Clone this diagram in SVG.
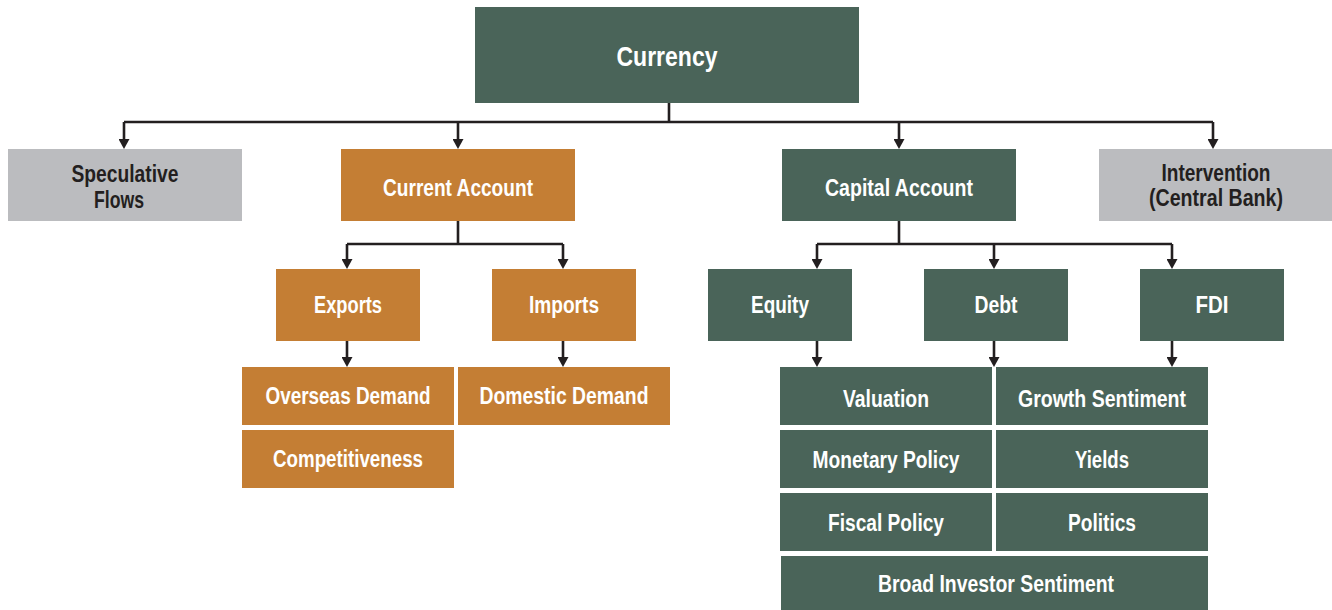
<svg xmlns="http://www.w3.org/2000/svg" width="1332" height="610" viewBox="0 0 1332 610">
  <defs>
    <style>
      .green { fill: #4a6459; }
      .orange { fill: #c47e34; }
      .gray { fill: #bbbcbf; }
      text { font-family: "Liberation Sans", Arial, sans-serif; font-weight: bold; font-size: 23px; text-anchor: middle; }
      .light { fill: #ffffff; }
      .dark { fill: #231f20; }
      .title { font-size: 28px; }
      .wire { fill: none; stroke: #231f20; stroke-width: 2.6; }
      .arrow { fill: none; stroke: #231f20; stroke-width: 2.6; marker-end: url(#head); }
    </style>
    <marker id="head" viewBox="0 0 10 11" refX="5" refY="5.5" markerWidth="10" markerHeight="11" markerUnits="userSpaceOnUse" orient="auto">
      <path d="M0,0 L10,5.5 L0,11 z" fill="#231f20"/>
    </marker>
  </defs>

  <!-- connectors -->
  <g id="connectors">
    <!-- Currency to first level -->
    <path class="wire" d="M669,103 V122 M124,122 H1213"/>
    <path class="arrow" d="M124,122 V144"/>
    <path class="arrow" d="M458,122 V144"/>
    <path class="arrow" d="M899,122 V144"/>
    <path class="arrow" d="M1213,122 V144"/>
    <!-- Current Account branch -->
    <path class="wire" d="M458,221 V244 M347,244 H563"/>
    <path class="arrow" d="M347,244 V264"/>
    <path class="arrow" d="M563,244 V264"/>
    <path class="arrow" d="M347,341 V362"/>
    <path class="arrow" d="M563,341 V362"/>
    <!-- Capital Account branch -->
    <path class="wire" d="M899,221 V244 M817,244 H1172"/>
    <path class="arrow" d="M817,244 V264"/>
    <path class="arrow" d="M994,244 V264"/>
    <path class="arrow" d="M1172,244 V264"/>
    <path class="arrow" d="M817,341 V362"/>
    <path class="arrow" d="M994,341 V362"/>
    <path class="arrow" d="M1172,341 V362"/>
  </g>

  <!-- labels use a condensed setting via textLength -->
  <g id="currency">
    <rect class="green" x="475" y="7" width="384" height="96"/>
    <text class="light title" x="667" y="66" textLength="101" lengthAdjust="spacingAndGlyphs">Currency</text>
  </g>

  <g id="speculative-flows">
    <rect class="gray" x="8" y="149" width="234" height="72"/>
    <text class="dark" x="125" y="182" textLength="107" lengthAdjust="spacingAndGlyphs">Speculative</text>
    <text class="dark" x="119" y="208" textLength="50" lengthAdjust="spacingAndGlyphs">Flows</text>
  </g>

  <g id="current-account">
    <rect class="orange" x="341" y="149" width="234" height="72"/>
    <text class="light" x="458" y="196" textLength="150" lengthAdjust="spacingAndGlyphs">Current Account</text>
  </g>

  <g id="capital-account">
    <rect class="green" x="782" y="149" width="234" height="72"/>
    <text class="light" x="899" y="196" textLength="148" lengthAdjust="spacingAndGlyphs">Capital Account</text>
  </g>

  <g id="intervention">
    <rect class="gray" x="1099" y="149" width="233" height="72"/>
    <text class="dark" x="1216" y="181" textLength="109" lengthAdjust="spacingAndGlyphs">Intervention</text>
    <text class="dark" x="1216" y="206" textLength="134" lengthAdjust="spacingAndGlyphs">(Central Bank)</text>
  </g>

  <g id="exports">
    <rect class="orange" x="276" y="269" width="144" height="72"/>
    <text class="light" x="348" y="313" textLength="68" lengthAdjust="spacingAndGlyphs">Exports</text>
  </g>

  <g id="imports">
    <rect class="orange" x="492" y="269" width="144" height="72"/>
    <text class="light" x="564" y="313" textLength="70" lengthAdjust="spacingAndGlyphs">Imports</text>
  </g>

  <g id="equity">
    <rect class="green" x="708" y="269" width="144" height="72"/>
    <text class="light" x="780" y="313" textLength="58" lengthAdjust="spacingAndGlyphs">Equity</text>
  </g>

  <g id="debt">
    <rect class="green" x="924" y="269" width="144" height="72"/>
    <text class="light" x="996" y="313" textLength="43" lengthAdjust="spacingAndGlyphs">Debt</text>
  </g>

  <g id="fdi">
    <rect class="green" x="1140" y="269" width="144" height="72"/>
    <text class="light" x="1212" y="313" textLength="33" lengthAdjust="spacingAndGlyphs">FDI</text>
  </g>

  <g id="overseas-demand">
    <rect class="orange" x="242" y="367" width="212" height="58"/>
    <text class="light" x="348" y="404" textLength="165" lengthAdjust="spacingAndGlyphs">Overseas Demand</text>
  </g>

  <g id="competitiveness">
    <rect class="orange" x="242" y="430" width="212" height="58"/>
    <text class="light" x="348" y="467" textLength="150" lengthAdjust="spacingAndGlyphs">Competitiveness</text>
  </g>

  <g id="domestic-demand">
    <rect class="orange" x="458" y="367" width="212" height="58"/>
    <text class="light" x="564" y="404" textLength="169" lengthAdjust="spacingAndGlyphs">Domestic Demand</text>
  </g>

  <g id="valuation">
    <rect class="green" x="780" y="367" width="212" height="58"/>
    <text class="light" x="886" y="407" textLength="86" lengthAdjust="spacingAndGlyphs">Valuation</text>
  </g>

  <g id="growth-sentiment">
    <rect class="green" x="996" y="367" width="212" height="58"/>
    <text class="light" x="1102" y="407" textLength="168" lengthAdjust="spacingAndGlyphs">Growth Sentiment</text>
  </g>

  <g id="monetary-policy">
    <rect class="green" x="780" y="430" width="212" height="58"/>
    <text class="light" x="886" y="468" textLength="147" lengthAdjust="spacingAndGlyphs">Monetary Policy</text>
  </g>

  <g id="yields">
    <rect class="green" x="996" y="430" width="212" height="58"/>
    <text class="light" x="1102" y="468" textLength="54" lengthAdjust="spacingAndGlyphs">Yields</text>
  </g>

  <g id="fiscal-policy">
    <rect class="green" x="780" y="493" width="212" height="58"/>
    <text class="light" x="886" y="531" textLength="116" lengthAdjust="spacingAndGlyphs">Fiscal Policy</text>
  </g>

  <g id="politics">
    <rect class="green" x="996" y="493" width="212" height="58"/>
    <text class="light" x="1102" y="531" textLength="68" lengthAdjust="spacingAndGlyphs">Politics</text>
  </g>

  <g id="broad-investor-sentiment">
    <rect class="green" x="781" y="556" width="427" height="54"/>
    <text class="light" x="996" y="592" textLength="236" lengthAdjust="spacingAndGlyphs">Broad Investor Sentiment</text>
  </g>
</svg>
